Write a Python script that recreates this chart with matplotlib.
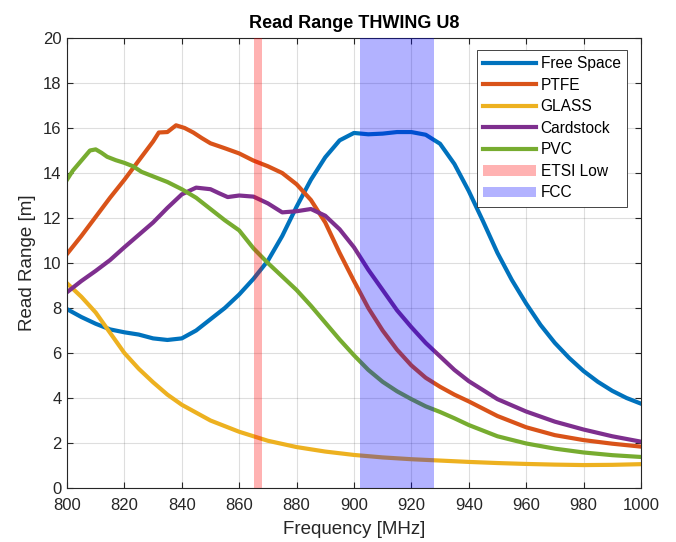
import matplotlib
matplotlib.use("Agg")
import matplotlib.pyplot as plt

plt.rcParams['font.family'] = ['Liberation Sans', 'DejaVu Sans']

# Free Space
free_f = [800, 805, 810, 815, 820, 825, 830, 835, 840, 845, 850, 855, 860, 865,
          870, 875, 880, 885, 890, 895, 900, 905, 910, 915, 920, 925, 930, 935,
          940, 945, 950, 955, 960, 965, 970, 975, 980, 985, 990, 995, 1000]
free_r = [7.95, 7.6, 7.3, 7.05, 6.92, 6.82, 6.65, 6.58, 6.65, 7.0, 7.5, 8.0, 8.6, 9.3,
          10.1, 11.2, 12.5, 13.7, 14.7, 15.45, 15.78, 15.72, 15.75, 15.82, 15.82, 15.7, 15.3, 14.4,
          13.2, 11.85, 10.45, 9.25, 8.2, 7.25, 6.45, 5.78, 5.2, 4.72, 4.32, 4.0, 3.75]

# PTFE
ptfe_f = [800, 805, 810, 815, 820, 825, 830, 832, 835, 838, 841, 844, 847, 850, 855,
          860, 865, 870, 875, 880, 885, 890, 895, 900, 905, 910, 915, 920, 925, 930,
          935, 940, 950, 960, 970, 980, 990, 1000]
ptfe_r = [10.4, 11.2, 12.05, 12.9, 13.7, 14.55, 15.4, 15.8, 15.82, 16.12, 16.0, 15.8, 15.55, 15.32, 15.1,
          14.87, 14.55, 14.3, 14.0, 13.5, 12.8, 11.8, 10.45, 9.2, 8.0, 7.0, 6.15, 5.45, 4.9, 4.5,
          4.15, 3.85, 3.2, 2.7, 2.35, 2.13, 1.97, 1.84]

# GLASS
glass_f = [800, 805, 810, 815, 820, 825, 830, 835, 840, 845, 850, 855, 860, 865, 870,
           880, 890, 900, 910, 920, 930, 940, 950, 960, 970, 980, 990, 1000]
glass_r = [9.1, 8.5, 7.8, 6.9, 6.0, 5.3, 4.7, 4.15, 3.7, 3.35, 3.0, 2.75, 2.5, 2.3, 2.1,
           1.82, 1.62, 1.47, 1.36, 1.28, 1.22, 1.16, 1.11, 1.07, 1.04, 1.02, 1.03, 1.06]

# Cardstock
card_f = [800, 805, 810, 815, 820, 825, 830, 835, 840, 845, 850, 853, 856, 860, 865,
          870, 875, 880, 885, 890, 895, 900, 905, 910, 915, 920, 925, 930, 935, 940,
          950, 960, 970, 980, 990, 1000]
card_r = [8.7, 9.2, 9.65, 10.13, 10.7, 11.25, 11.8, 12.45, 13.05, 13.35, 13.28, 13.1, 12.93, 13.0, 12.95,
          12.65, 12.25, 12.3, 12.4, 12.1, 11.5, 10.7, 9.7, 8.8, 7.9, 7.15, 6.45, 5.85, 5.25, 4.75,
          3.95, 3.4, 2.95, 2.6, 2.3, 2.06]

# PVC
pvc_f = [800, 802, 805, 808, 810, 812, 814, 817, 820, 823, 826, 830, 835, 840, 845,
         850, 855, 860, 865, 870, 875, 880, 885, 890, 895, 900, 905, 910, 915, 920,
         925, 930, 935, 940, 950, 960, 970, 980, 990, 1000]
pvc_r = [13.7, 14.1, 14.55, 15.0, 15.05, 14.9, 14.72, 14.57, 14.45, 14.3, 14.05, 13.85, 13.6, 13.28, 12.9,
         12.4, 11.9, 11.45, 10.65, 10.0, 9.4, 8.8, 8.1, 7.35, 6.6, 5.9, 5.25, 4.72, 4.3, 3.95,
         3.63, 3.38, 3.1, 2.8, 2.3, 1.98, 1.75, 1.58, 1.46, 1.38]

etsi_band = (865, 868)
fcc_band = (902, 928)

dark = (0.15, 0.15, 0.15)

fig = plt.figure(figsize=(6.76, 5.42), dpi=100)
ax = fig.add_axes([0.0991, 0.0996, 0.8490, 0.8303])

lw = 3.0
style = dict(lw=lw, solid_joinstyle='round')
ax.plot(free_f, free_r, color=(0, 0.447, 0.741), label='Free Space', **style)
ax.plot(ptfe_f, ptfe_r, color=(0.85, 0.325, 0.098), label='PTFE', **style)
ax.plot(glass_f, glass_r, color=(0.929, 0.694, 0.125), label='GLASS', **style)
ax.plot(card_f, card_r, color=(0.494, 0.184, 0.556), label='Cardstock', **style)
ax.plot(pvc_f, pvc_r, color=(0.466, 0.674, 0.188), label='PVC', **style)

ax.axvspan(*etsi_band, color='red', alpha=0.3, lw=0, zorder=3, label='ETSI Low')
ax.axvspan(*fcc_band, color='blue', alpha=0.3, lw=0, zorder=3, label='FCC')

ax.set_xlim(800, 1000)
ax.set_ylim(0, 20)
ax.set_xticks(range(800, 1001, 20))
ax.set_yticks(range(0, 21, 2))
ax.grid(True, color=dark, alpha=0.15, lw=0.8)
ax.set_axisbelow(True)
ax.tick_params(direction='in', top=True, right=True, labelsize=12,
               colors=dark, length=4)
ax.tick_params(axis='x', pad=7)
ax.tick_params(axis='y', pad=4)
for s in ax.spines.values():
    s.set_color(dark)
    s.set_linewidth(0.8)

ax.set_title('Read Range THWING U8', fontsize=13, fontweight='bold', pad=7)
ax.set_xlabel('Frequency [MHz]', fontsize=13.5, color=dark, labelpad=6)
ax.set_ylabel('Read Range [m]', fontsize=13.5, color=dark, labelpad=5)

leg = ax.legend(loc='upper right', fontsize=11.2, handlelength=3.4, handletextpad=0.3,
                labelspacing=0.42, borderpad=0.4, borderaxespad=0, fancybox=False,
                framealpha=1, edgecolor=dark, bbox_to_anchor=(0.9756, 0.9733))
leg.get_frame().set_linewidth(0.6)

fig.savefig('out.png', dpi=100)
